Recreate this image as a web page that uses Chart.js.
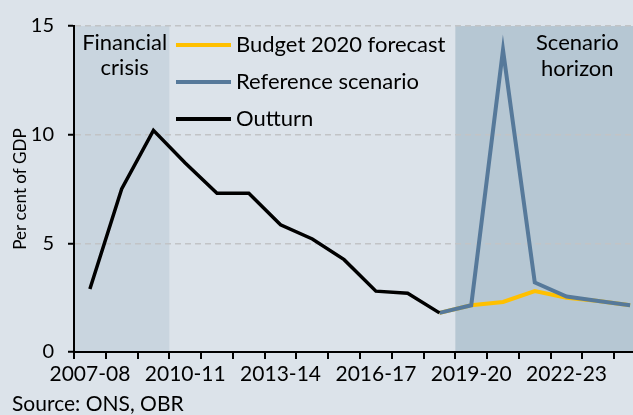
<!DOCTYPE html>
<html>
<head>
<meta charset="utf-8">
<script src="https://cdn.jsdelivr.net/npm/chart.js@4.4.1/dist/chart.umd.min.js"></script>
<style>
  html, body { margin: 0; padding: 0; background: #dce3ea; overflow: hidden; }
  #wrap { width: 633px; height: 415px; overflow: hidden; }
  #chart { display: block; }
</style>
</head>
<body>
<div id="wrap"><canvas id="chart" width="650" height="415"></canvas></div>
<script>
const years = [
  "2007-08", "2008-09", "2009-10", "2010-11", "2011-12", "2012-13",
  "2013-14", "2014-15", "2015-16", "2016-17", "2017-18", "2018-19",
  "2019-20", "2020-21", "2021-22", "2022-23", "2023-24", "2024-25"
];

const outturn = [2.9, 7.5, 10.2, 8.7, 7.3, 7.3, 5.85, 5.2, 4.25, 2.8, 2.7, 1.8,
  null, null, null, null, null, null];
const budgetForecast = [null, null, null, null, null, null, null, null, null, null, null, 1.8,
  2.15, 2.3, 2.8, 2.5, 2.35, 2.15];
const referenceScenario = [null, null, null, null, null, null, null, null, null, null, null, 1.8,
  2.15, 13.9, 3.2, 2.55, 2.35, 2.15];

const yTicks = [0, 5, 10, 15];
const labelEvery = 3;

const crisisPeriod = ["2007-08", "2009-10"];
const scenarioPeriod = ["2019-20", "2024-25"];

const FONT = "Lato, 'DejaVu Sans', sans-serif";
const BG = "#dce3ea";

function bandEdges(chart, period) {
  const x = chart.scales.x;
  const i0 = years.indexOf(period[0]);
  const i1 = years.indexOf(period[1]);
  const half = (x.getPixelForValue(1) - x.getPixelForValue(0)) / 2;
  return [x.getPixelForValue(i0) - half, x.getPixelForValue(i1) + half];
}

const backgroundPlugin = {
  id: "background",
  beforeDraw(chart) {
    const { ctx, chartArea } = chart;
    ctx.save();
    ctx.fillStyle = BG;
    ctx.fillRect(0, 0, chart.width, chart.height);

    const [c0, c1] = bandEdges(chart, crisisPeriod);
    ctx.fillStyle = "#c9d5df";
    ctx.fillRect(c0, chartArea.top, c1 - c0, chartArea.bottom - chartArea.top);

    const [s0, s1] = bandEdges(chart, scenarioPeriod);
    ctx.fillStyle = "#b6c7d3";
    ctx.fillRect(s0, chartArea.top, s1 - s0, chartArea.bottom - chartArea.top);
    ctx.restore();
  }
};

const annotationPlugin = {
  id: "annotations",
  beforeDatasetsDraw(chart) {
    const { ctx, chartArea } = chart;
    const [c0, c1] = bandEdges(chart, crisisPeriod);
    const [s0, s1] = bandEdges(chart, scenarioPeriod);

    ctx.save();
    ctx.fillStyle = "#000";
    ctx.font = "22px " + FONT;
    ctx.textAlign = "center";
    ctx.textBaseline = "middle";
    const crisisX = (c0 + c1) / 2 + 3;
    ctx.fillText("Financial", crisisX, chartArea.top + 17);
    ctx.fillText("crisis", crisisX, chartArea.top + 42);

    const scenarioX = s0 + (s1 - s0) * 0.64;
    ctx.fillText("Scenario", scenarioX, chartArea.top + 17);
    ctx.fillText("horizon", scenarioX, chartArea.top + 43);
    ctx.restore();
  },
  afterDatasetsDraw(chart) {
    const { ctx, chartArea } = chart;
    const legendOrder = [0, 1, 2];
    ctx.save();
    ctx.font = "22px " + FONT;
    ctx.textAlign = "left";
    ctx.textBaseline = "middle";
    legendOrder.forEach((idx, row) => {
      const ds = chart.data.datasets[idx];
      const y = chartArea.top + 19 + row * 37;
      const x = chartArea.left + 102;
      ctx.strokeStyle = ds.borderColor;
      ctx.lineWidth = 4;
      ctx.beginPath();
      ctx.moveTo(x, y);
      ctx.lineTo(x + 55, y);
      ctx.stroke();
      ctx.fillStyle = "#000";
      ctx.fillText(ds.label, x + 60, y);
    });
    ctx.restore();
  },
  afterDraw(chart) {
    const { ctx } = chart;
    ctx.save();
    ctx.fillStyle = "#000";
    ctx.font = "21px " + FONT;
    ctx.textAlign = "left";
    ctx.textBaseline = "alphabetic";
    ctx.fillText("Source: ONS, OBR", 12, 411);
    ctx.restore();
  }
};

new Chart(document.getElementById("chart"), {
  type: "line",
  data: {
    labels: years,
    datasets: [
      {
        label: "Budget 2020 forecast",
        data: budgetForecast,
        borderColor: "#ffc000",
        borderWidth: 4,
        pointRadius: 0,
        tension: 0,
        order: 3
      },
      {
        label: "Reference scenario",
        data: referenceScenario,
        borderColor: "#56799a",
        borderWidth: 4,
        pointRadius: 0,
        tension: 0,
        order: 2
      },
      {
        label: "Outturn",
        data: outturn,
        borderColor: "#000000",
        borderWidth: 3.5,
        pointRadius: 0,
        tension: 0,
        order: 1
      }
    ]
  },
  options: {
    responsive: false,
    animation: false,
    devicePixelRatio: 1,
    layout: {
      padding: { top: 26, left: 0, right: 4, bottom: 0 }
    },
    plugins: {
      legend: { display: false },
      tooltip: { enabled: false }
    },
    scales: {
      x: {
        type: "category",
        offset: true,
        afterFit(scale) {
          scale.height = 63;
        },
        grid: {
          display: true,
          offset: true,
          drawOnChartArea: false,
          drawTicks: true,
          tickLength: 7,
          color: "#000",
          lineWidth: 2
        },
        border: {
          display: true,
          color: "#000",
          width: 2
        },
        ticks: {
          autoSkip: false,
          maxRotation: 0,
          padding: 3,
          color: "#000",
          font: { family: FONT, size: 21 },
          callback: (value, index) => (index % labelEvery === 0 ? years[index] : "")
        }
      },
      y: {
        min: yTicks[0],
        max: yTicks[yTicks.length - 1],
        afterFit(scale) {
          scale.width = 74;
        },
        afterBuildTicks(scale) {
          scale.ticks = yTicks.map(v => ({ value: v }));
        },
        grid: {
          color: "#c2c4c6",
          lineWidth: 1.5,
          tickLength: 6,
          tickColor: "#000",
          tickWidth: 2
        },
        border: {
          display: true,
          color: "#000",
          width: 2,
          dash: [6, 4]
        },
        ticks: {
          padding: 14,
          color: "#000",
          font: { family: FONT, size: 20 }
        },
        title: {
          display: true,
          text: "Per cent of GDP",
          color: "#000",
          font: { family: FONT, size: 17 },
          padding: { top: 10, bottom: 0 }
        }
      }
    }
  },
  plugins: [backgroundPlugin, annotationPlugin]
});
</script>
</body>
</html>
